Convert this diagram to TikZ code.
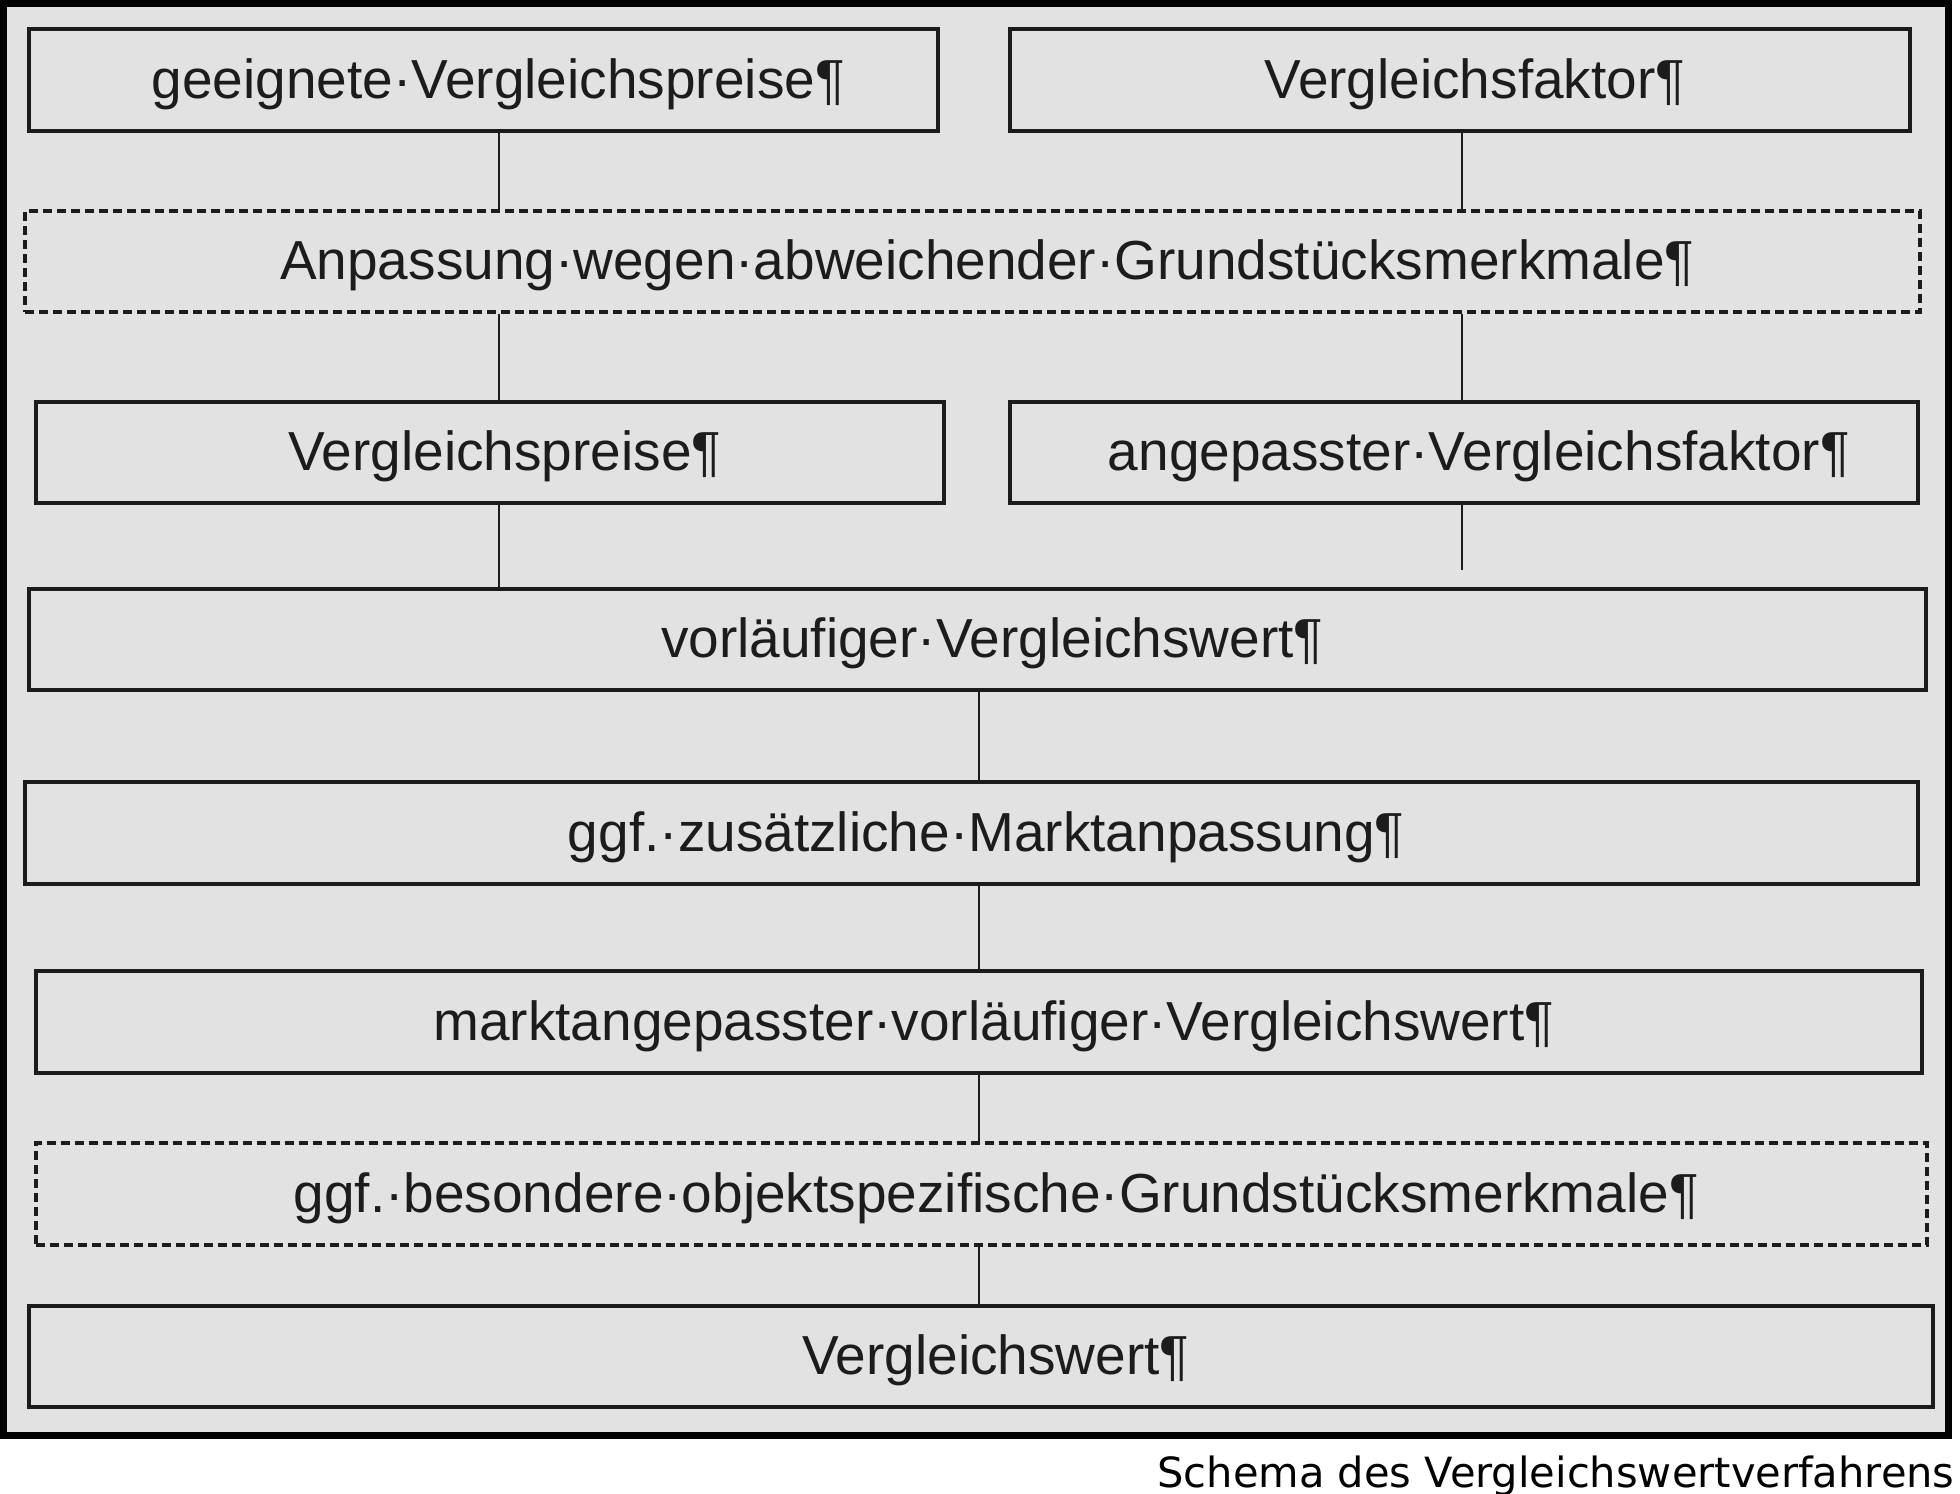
\documentclass[tikz,border=0pt]{standalone}
\usepackage{fontspec}
\setmainfont{Liberation Sans}
\newfontfamily\capfont{DejaVu Sans}
\definecolor{bg}{RGB}{226,226,226}
\definecolor{ink}{RGB}{28,28,28}
\tikzset{
  boxbase/.style={draw=ink, line width=1.6pt, fill=bg, inner sep=0pt, text=ink,
    font=\fontsize{27.5pt}{30pt}\selectfont, text height=18pt, text depth=0pt, align=center},
  solidbox/.style={boxbase},
  dashbox/.style={boxbase, dash pattern=on 4.5pt off 2.5pt},
  conn/.style={draw=ink, line width=1.1pt},
}
\newcommand{\pil}{\rlap{¶}}
\begin{document}
\begin{tikzpicture}[x=0.5pt,y=-0.5pt]
\useasboundingbox (0,0) rectangle (1960,1494);
\fill[white] (0,0) rectangle (1960,1494);
% outer frame
\node[draw=black, line width=3.5pt, fill=bg, minimum width=972.5pt, minimum height=715.75pt, inner sep=0pt] (frame) at (976,719.25) {};
% boxes
\node[solidbox, minimum width=454.5pt, minimum height=51pt] (b1) at (483.5,80) {geeignete·Vergleichspreise\pil};
\node[solidbox, minimum width=450pt, minimum height=51pt] (b2) at (1460,80) {Vergleichsfaktor\pil};
\node[dashbox, minimum width=947.5pt, minimum height=50.5pt] (b3) at (972.5,261.5) {Anpassung·wegen·abweichender·Grundstücksmerkmale\pil};
\node[solidbox, minimum width=454pt, minimum height=50.5pt] (b4) at (490,452.5) {Vergleichspreise\pil};
\node[solidbox, minimum width=454pt, minimum height=50.5pt] (b5) at (1464,452.5) {angepasster·Vergleichsfaktor\pil};
\node[solidbox, minimum width=948.5pt, minimum height=50.5pt] (b6) at (977.5,639.5) {vorläufiger·Vergleichswert\pil};
\node[solidbox, minimum width=946.5pt, minimum height=51pt] (b7) at (971.5,833) {ggf.·zusätzliche·Marktanpassung\pil};
\node[solidbox, minimum width=943pt, minimum height=51pt] (b8) at (979,1022) {marktangepasster·vorläufiger·Vergleichswert\pil};
\node[dashbox, minimum width=945.5pt, minimum height=51pt] (b9) at (981.5,1194) {ggf.·besondere·objektspezifische·Grundstücksmerkmale\pil};
\node[solidbox, minimum width=952pt, minimum height=50.5pt] (b10) at (981,1356.5) {Vergleichswert\pil};
% connector columns
\coordinate (lx) at (499,0);
\coordinate (rx) at (1462,0);
\coordinate (mx) at (979,0);
\coordinate (rend) at (1462,570);
\draw[conn] (lx |- b1.south) -- (lx |- b3.north);
\draw[conn] (lx |- b3.south) -- (lx |- b4.north);
\draw[conn] (lx |- b4.south) -- (lx |- b6.north);
\draw[conn] (rx |- b2.south) -- (rx |- b3.north);
\draw[conn] (rx |- b3.south) -- (rx |- b5.north);
\draw[conn] (rx |- b5.south) -- (rend);
\draw[conn] (mx |- b6.south) -- (mx |- b7.north);
\draw[conn] (mx |- b7.south) -- (mx |- b8.north);
\draw[conn] (mx |- b8.south) -- (mx |- b9.north);
\draw[conn] (mx |- b9.south) -- (mx |- b10.north);
% caption
\node[anchor=base east, inner sep=0pt, font=\capfont\fontsize{20.8pt}{24pt}\selectfont] (cap) at (1955,1487) {Schema des Vergleichswertverfahrens};
\end{tikzpicture}
\end{document}
